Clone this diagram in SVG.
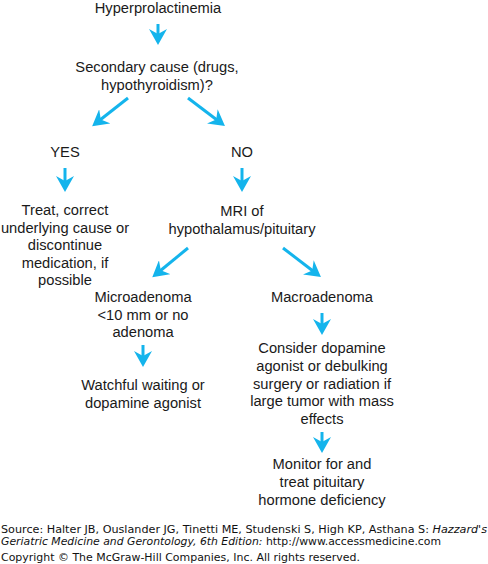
<svg xmlns="http://www.w3.org/2000/svg" width="488" height="564" viewBox="0 0 488 564">
<style>
.t{font-family:"Liberation Sans",Arial,sans-serif;font-size:14.7px;fill:#1a1a1a;text-anchor:middle}
.f{font-family:"DejaVu Sans",Verdana,sans-serif;font-size:10px;fill:#111}
.a{stroke:#14B4EC;stroke-width:3;fill:none;marker-end:url(#ah)}
</style>
<defs>
<marker id="ah" markerUnits="userSpaceOnUse" viewBox="0 0 16 18" refX="6" refY="9" markerWidth="16" markerHeight="18" orient="auto">
<path d="M0,0 L16,9 L0,18 L5,9 z" fill="#14B4EC"/>
</marker>
</defs>
<rect width="488" height="564" fill="#fff"/>
<g id="connectors">
<line class="a" x1="158" y1="24" x2="158" y2="35"/>
<line class="a" x1="128" y1="98" x2="100" y2="120"/>
<line class="a" x1="188" y1="98" x2="217" y2="120"/>
<line class="a" x1="65" y1="168" x2="65" y2="182"/>
<line class="a" x1="242" y1="168" x2="242" y2="182"/>
<line class="a" x1="188" y1="248" x2="160" y2="271"/>
<line class="a" x1="283" y1="248" x2="313" y2="271"/>
<line class="a" x1="143" y1="345" x2="143" y2="357"/>
<line class="a" x1="322" y1="313" x2="322" y2="325"/>
<line class="a" x1="322" y1="432" x2="322" y2="443"/>
</g>
<g id="n1"><text class="t" x="158" y="13">Hyperprolactinemia</text></g>
<g id="n2"><text class="t" x="157" y="72">Secondary cause (drugs,</text><text class="t" x="157" y="90">hypothyroidism)?</text></g>
<g id="yes"><text class="t" x="65" y="157">YES</text></g>
<g id="no"><text class="t" x="242" y="157">NO</text></g>
<g id="treat"><text class="t" x="65" y="215">Treat, correct</text><text class="t" x="65" y="232.5">underlying cause or</text><text class="t" x="65" y="250">discontinue</text><text class="t" x="65" y="267.5">medication, if</text><text class="t" x="65" y="285">possible</text></g>
<g id="mri"><text class="t" x="242" y="216">MRI of</text><text class="t" x="242" y="234">hypothalamus/pituitary</text></g>
<g id="micro"><text class="t" x="143" y="302">Microadenoma</text><text class="t" x="143" y="319.5">&lt;10 mm or no</text><text class="t" x="143" y="337">adenoma</text></g>
<g id="watch"><text class="t" x="143" y="390">Watchful waiting or</text><text class="t" x="143" y="408">dopamine agonist</text></g>
<g id="macro"><text class="t" x="322" y="302">Macroadenoma</text></g>
<g id="consider"><text class="t" x="322" y="353">Consider dopamine</text><text class="t" x="322" y="371">agonist or debulking</text><text class="t" x="322" y="388.5">surgery or radiation if</text><text class="t" x="322" y="406">large tumor with mass</text><text class="t" x="322" y="423.5">effects</text></g>
<g id="monitor"><text class="t" x="322" y="469">Monitor for and</text><text class="t" x="322" y="487">treat pituitary</text><text class="t" x="322" y="505">hormone deficiency</text></g>
<g id="footer">
<text class="f" x="1" y="533" textLength="486" lengthAdjust="spacingAndGlyphs">Source: Halter JB, Ouslander JG, Tinetti ME, Studenski S, High KP, Asthana S: <tspan font-style="italic">Hazzard's</tspan></text>
<text class="f" x="1" y="545" textLength="440" lengthAdjust="spacingAndGlyphs"><tspan font-style="italic">Geriatric Medicine and Gerontology, 6th Edition:</tspan> http://www.accessmedicine.com</text>
<text class="f" x="1" y="561" textLength="359" lengthAdjust="spacingAndGlyphs">Copyright © The McGraw-Hill Companies, Inc. All rights reserved.</text>
</g>
</svg>
